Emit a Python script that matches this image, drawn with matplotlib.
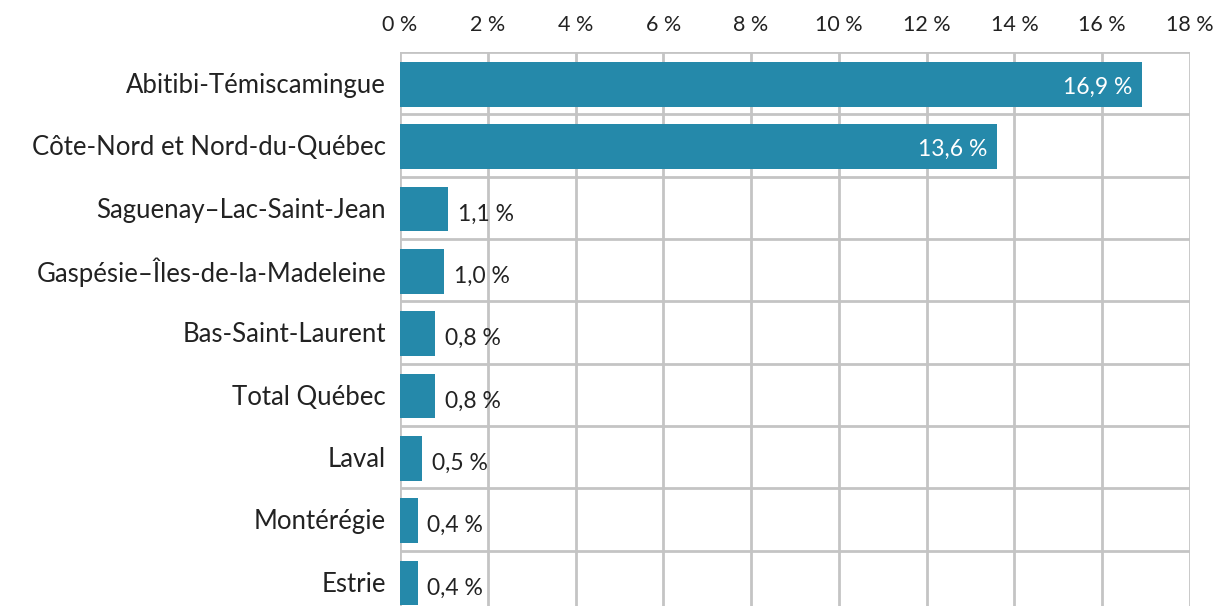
import numpy as np
import matplotlib.pyplot as plt
from matplotlib.ticker import FixedLocator

regions = ["Abitibi-Témiscamingue", "Côte-Nord et Nord-du-Québec",
           "Saguenay–Lac-Saint-Jean", "Gaspésie–Îles-de-la-Madeleine",
           "Bas-Saint-Laurent", "Total Québec", "Laval", "Montérégie", "Estrie"]
values = [16.9, 13.6, 1.1, 1.0, 0.8, 0.8, 0.5, 0.4, 0.4]
xticks = [0, 2, 4, 6, 8, 10, 12, 14, 16, 18]

plt.rcParams['font.family'] = ['Lato', 'DejaVu Sans']
bar_color = '#2589aa'
grid_color = '#c4c4c4'
text_color = '#222222'

fig = plt.figure(figsize=(12.15, 6.06), dpi=100)
ax = fig.add_axes([400 / 1215, 0, 790 / 1215, 554 / 606])

y = np.arange(len(regions))
ax.barh(y + 0.02, values, height=0.72, color=bar_color, zorder=3)

ax.set_xlim(0, 18)
ax.set_ylim(8.39, -0.5)

ax.xaxis.set_major_locator(FixedLocator(xticks))
ax.set_xticklabels([f"{t} %" for t in xticks])
ax.xaxis.tick_top()
ax.tick_params(axis='x', length=0, pad=12, labelsize=15.5, labelcolor=text_color)

ax.set_yticks(y)
ax.set_yticklabels(regions)
ax.yaxis.set_minor_locator(FixedLocator(np.arange(-0.5, len(regions), 1)))
ax.tick_params(axis='y', which='both', length=0, pad=10, labelsize=18.5, labelcolor=text_color)

ax.grid(axis='x', which='major', color=grid_color, linewidth=2, zorder=0)
ax.grid(axis='y', which='minor', color=grid_color, linewidth=2, zorder=0)
for s in ax.spines.values():
    s.set_visible(False)

for yi, v in zip(y, values):
    lab = f"{v:.1f} %".replace('.', ',')
    if v > 5:
        ax.text(v - 0.22, yi + 0.07, lab, ha='right', va='center',
                color='white', fontsize=16.5)
    else:
        ax.text(v + 0.22, yi + 0.1, lab, ha='left', va='center',
                color=text_color, fontsize=16.5)

fig.savefig('out.png', dpi=100)
